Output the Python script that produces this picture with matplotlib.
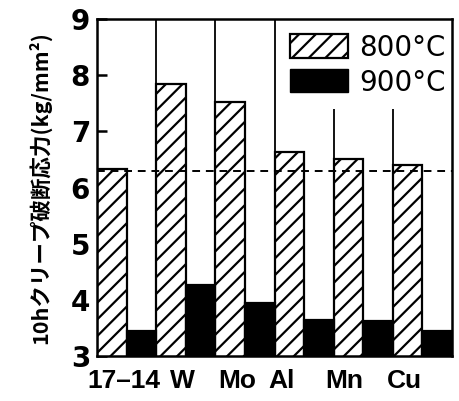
import matplotlib
matplotlib.use('Agg')
import matplotlib.pyplot as plt
from matplotlib.patches import Patch
import numpy as np

# 10h creep rupture stress
categories = ['17–14', 'W', 'Mo', 'Al', 'Mn', 'Cu']
stress_800 = [6.33, 7.84, 7.52, 6.63, 6.50, 6.40]
stress_900 = [3.44, 4.26, 3.95, 3.64, 3.62, 3.44]
ref_level = 6.3          # dashed line (base alloy 17-14 at 800C)
divider_top = [9, 9, 9, 7.4, 7.4]   # top of the group separator lines

plt.rcParams['hatch.linewidth'] = 1.6

fig = plt.figure(figsize=(4.6, 4.01), dpi=100)
ax = fig.add_axes([0.2109, 0.1122, 0.7717, 0.8404])

n = len(categories)
x800 = np.arange(n) * 2
x900 = x800 + 1

ax.bar(x800, stress_800, width=1, color='white', edgecolor='black',
       linewidth=1.6, hatch='//', zorder=2)
ax.bar(x900, stress_900, width=1, color='black', edgecolor='black',
       linewidth=1.6, zorder=2)

# separators between the groups
ax.vlines(x800[1:] - 0.5, 3, divider_top, color='black', linewidth=1.3, zorder=1)

# reference level
ax.axhline(ref_level, color='black', linestyle=(0, (4, 3)), linewidth=1.4, zorder=3)

ax.set_xlim(-0.5, 2 * n - 0.5)
ax.set_ylim(3, 9)

# labels sit a bit left of the group centres in the original
label_shift = [-0.1, -0.1, -0.27, -0.75, -0.63, -0.6]
ax.set_xticks(x800 + 0.5 + np.array(label_shift))
ax.set_xticklabels(categories, fontfamily='Liberation Sans', fontweight='bold',
                   fontsize=19)
ax.tick_params(axis='x', length=0, pad=9)

ax.set_yticks(range(3, 10))
ax.set_yticklabels([str(v) for v in range(3, 10)], fontfamily='DejaVu Sans',
                   fontweight='bold', fontsize=20)
ax.tick_params(axis='y', direction='in', length=7, width=1.8, pad=5)

for sp in ax.spines.values():
    sp.set_linewidth(1.8)

ax.set_ylabel('10hクリープ破断応力(kg/mm²)', family=['Noto Sans CJK JP', 'DejaVu Sans'],
              fontsize=15.5, fontweight='bold', labelpad=14)

handles = [Patch(facecolor='white', edgecolor='black', hatch='//', linewidth=1.6),
           Patch(facecolor='black', edgecolor='black')]
ax.legend(handles, ['800°C', '900°C'], loc='upper left', bbox_to_anchor=(0.535, 0.965),
          frameon=False, fontsize=20, handlelength=2.1, handleheight=0.9,
          handletextpad=0.4, labelspacing=0.25, borderpad=0.1, borderaxespad=0)

fig.savefig('out.png', dpi=100)
